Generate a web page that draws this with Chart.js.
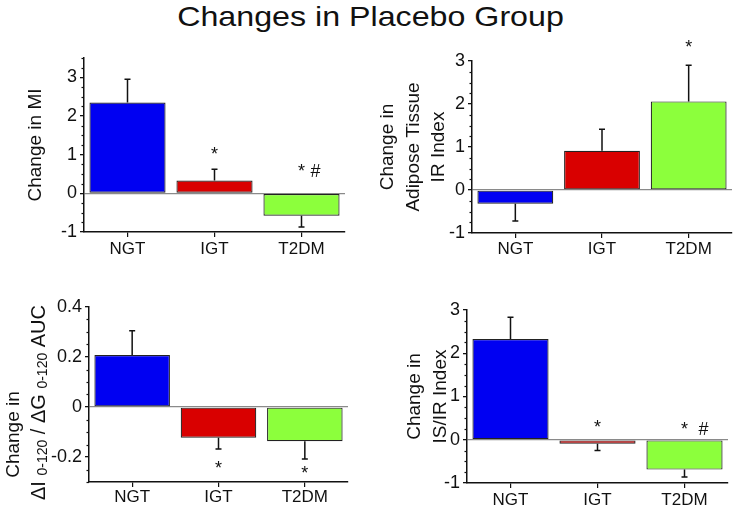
<!DOCTYPE html>
<html>
<head>
<meta charset="utf-8">
<script src="https://cdn.jsdelivr.net/npm/chart.js@4.4.1/dist/chart.umd.min.js"></script>
<style>
  body { margin: 0; background: #fff; width: 733px; height: 509px; position: relative; overflow: hidden; font-family: "Liberation Sans", Arial, sans-serif; }
  #title { position: absolute; left: 4px; top: 3px; width: 733px; text-align: center; font-size: 28px; line-height: 28px; color: #111; transform: scaleX(1.15); transform-origin: 50% 0; }
  canvas { position: absolute; }
</style>
</head>
<body>
<div id="title">Changes in Placebo Group</div>
<canvas id="c1" width="366" height="230" style="left:0;top:40px"></canvas>
<canvas id="c2" width="367" height="240" style="left:366px;top:30px"></canvas>
<canvas id="c3" width="366" height="239" style="left:0;top:270px"></canvas>
<canvas id="c4" width="367" height="239" style="left:366px;top:270px"></canvas>
<script>
// data
const groups = ['NGT', 'IGT', 'T2DM'];
const barColors = ['#0000f2', '#d90000', '#8cff3c'];

// change in MI
const mi = [2.35, 0.33, -0.58];
const miErr = [2.95, 0.62, -0.87];
const miSig = ['', '*', '* #'];
const miSigAt = [null, 1.0, 0.54];
const miTicks = [-1, 0, 1, 2, 3];

// change in adipose tissue IR index
const adip = [-0.32, 0.91, 2.06];
const adipErr = [-0.72, 1.41, 2.9];
const adipSig = ['', '', '*'];
const adipSigAt = [null, null, 3.29];
const adipTicks = [-1, 0, 1, 2, 3];

// change in dI/dG AUC
const auc = [0.208, -0.123, -0.137];
const aucErr = [0.305, -0.168, -0.208];
const aucSig = ['', '*', '*'];
const aucSigAt = [null, -0.25, -0.267];
const aucTicks = [-0.2, 0, 0.2, 0.4];

// change in IS/IR index
const isir = [2.33, -0.09, -0.69];
const isirErr = [2.83, -0.25, -0.86];
const isirSig = ['', '*', '*  #'];
const isirSigAt = [null, 0.28, 0.22];
const isirTicks = [-1, 0, 1, 2, 3];

const FONT = '"Liberation Sans", Arial, sans-serif';
const INK = '#111';
Chart.defaults.font.family = FONT;
Chart.defaults.color = INK;

// error bars, minor ticks, significance marks
const extras = {
  id: 'extras',
  afterDatasetsDraw(chart, args, o) {
    const ctx = chart.ctx, y = chart.scales.y;
    const meta = chart.getDatasetMeta(0);
    ctx.save();
    ctx.strokeStyle = INK;
    ctx.lineWidth = 1.5;
    o.err.forEach((e, i) => {
      const x = meta.data[i].x;
      const y0 = y.getPixelForValue(o.vals[i]);
      const y1 = y.getPixelForValue(e);
      ctx.beginPath();
      ctx.moveTo(x, y0); ctx.lineTo(x, y1);
      ctx.moveTo(x - 3, y1); ctx.lineTo(x + 3, y1);
      ctx.stroke();
    });
    ctx.restore();
  },
  afterDraw(chart, args, o) {
    const ctx = chart.ctx, y = chart.scales.y, a = chart.chartArea;
    const meta = chart.getDatasetMeta(0);
    ctx.save();
    // minor ticks
    ctx.strokeStyle = INK;
    ctx.lineWidth = 1.2;
    const n = Math.round((y.max - y.min) / o.minor);
    for (let k = 0; k <= n; k++) {
      const v = y.min + k * o.minor;
      if (o.ticks.some(t => Math.abs(t - v) < 1e-6)) continue;
      const py = Math.round(y.getPixelForValue(v)) + 0.5;
      ctx.beginPath();
      ctx.moveTo(a.left - 2.5, py); ctx.lineTo(a.left, py);
      ctx.stroke();
    }
    // * and # marks
    ctx.fillStyle = INK;
    ctx.font = '18px ' + FONT;
    ctx.textBaseline = 'middle';
    o.sig.forEach((s, i) => {
      if (!s) return;
      const x = meta.data[i].x;
      const py = y.getPixelForValue(o.sigAt[i]);
      ctx.textAlign = 'center';
      ctx.fillText(s[0], x, py);
      if (s.length > 1) {
        ctx.textAlign = 'left';
        ctx.fillText(s.slice(1), x + 4, py);
      }
    });
    // two-line title with subscripts (bottom-left panel)
    if (o.aucTitle) {
      const mid = (a.top + a.bottom) / 2;
      ctx.textAlign = 'left';
      ctx.textBaseline = 'alphabetic';
      const line = (parts, cx, cy) => {
        let w = 0;
        parts.forEach(p => { ctx.font = p[1] + 'px ' + FONT; w += ctx.measureText(p[0]).width; });
        ctx.save();
        ctx.translate(cx, cy);
        ctx.rotate(-Math.PI / 2);
        let x = -w / 2;
        parts.forEach(p => {
          ctx.font = p[1] + 'px ' + FONT;
          ctx.fillText(p[0], x, p[2]);
          x += ctx.measureText(p[0]).width;
        });
        ctx.restore();
      };
      line([['Change in', 19, 7]], 12, mid + 40);
      line([['\u0394I ', 20, 7], ['0-120', 14, 9], [' / \u0394G ', 20, 7], ['0-120', 14, 9], [' AUC', 20, 7]], 38, mid + 8);
    }
    ctx.restore();
  }
};

function panel(id, vals, err, ticks, sig, sigAt, cfg) {
  return new Chart(document.getElementById(id), {
    type: 'bar',
    data: {
      labels: groups,
      datasets: [{
        data: vals,
        backgroundColor: barColors,
        borderColor: '#222',
        borderWidth: 1.2,
        borderSkipped: false,
        categoryPercentage: 1,
        barPercentage: 0.875
      }]
    },
    options: {
      responsive: false,
      animation: false,
      devicePixelRatio: 1,
      layout: { padding: cfg.pad },
      plugins: {
        legend: { display: false },
        tooltip: { enabled: false },
        extras: { vals: vals, err: err, ticks: ticks, sig: sig, sigAt: sigAt, minor: cfg.minor, aucTitle: !cfg.title }
      },
      scales: {
        x: {
          grid: { drawOnChartArea: false, offset: false, tickLength: 5, color: INK, lineWidth: 1.2 },
          border: { color: INK, width: 1.5 },
          ticks: { font: { size: 17 }, color: INK, padding: cfg.xPad },
          afterFit: s => { s.height = cfg.xHeight; }
        },
        y: {
          min: cfg.min,
          max: cfg.max,
          afterBuildTicks: s => { s.ticks = ticks.map(v => ({ value: v })); },
          grid: {
            color: c => (c.tick && c.tick.value === 0) ? '#8a8a8a' : 'rgba(0,0,0,0)',
            tickColor: INK,
            tickLength: 4,
            lineWidth: 1.3
          },
          border: { color: INK, width: 1.5 },
          ticks: { font: { size: 18 }, color: INK, padding: 3 },
          title: {
            display: !!cfg.title,
            text: cfg.title || '',
            font: { size: 19, lineHeight: 1.35 },
            color: INK,
            padding: { top: cfg.titlePad, bottom: 0 }
          },
          afterFit: s => { s.width = cfg.yWidth; }
        }
      }
    },
    plugins: [extras]
  });
}

panel('c1', mi, miErr, miTicks, miSig, miSigAt, {
  min: -1, max: 3.5, minor: 0.25, title: 'Change in MI', titlePad: 23,
  pad: { top: 18, right: 21, left: 0, bottom: 0 }, yWidth: 84, xHeight: 38, xPad: 2
});
panel('c2', adip, adipErr, adipTicks, adipSig, adipSigAt, {
  min: -1, max: 3, minor: 0.25, title: ['Change in', 'Adipose Tissue', 'IR Index'], titlePad: 9,
  pad: { top: 31, right: 1, left: 0, bottom: 0 }, yWidth: 106, xHeight: 37, xPad: 1
});
panel('c3', auc, aucErr, aucTicks, aucSig, aucSigAt, {
  min: -0.3, max: 0.4, minor: 0.05, title: null, titlePad: 0,
  pad: { top: 37, right: 18, left: 0, bottom: 0 }, yWidth: 89, xHeight: 27, xPad: 0
});
panel('c4', isir, isirErr, isirTicks, isirSig, isirSigAt, {
  min: -1, max: 3, minor: 0.25, title: ['Change in', 'IS/IR Index'], titlePad: 36,
  pad: { top: 40, right: 5, left: 0, bottom: 0 }, yWidth: 101, xHeight: 26, xPad: 2
});
</script>
</body>
</html>
